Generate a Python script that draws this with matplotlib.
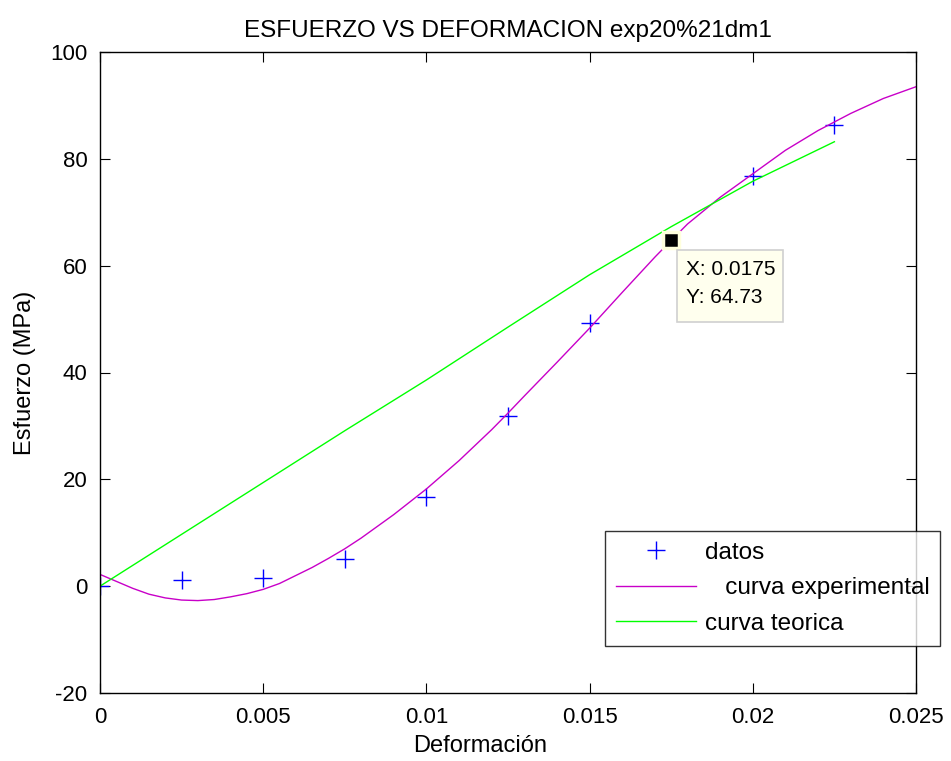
import matplotlib
matplotlib.use('Agg')
import matplotlib.pyplot as plt
from matplotlib.patches import Rectangle
import numpy as np

plt.rcParams['font.family'] = ['Liberation Sans', 'DejaVu Sans']
plt.rcParams['axes.unicode_minus'] = False

# puntos medidos (datos)
def_datos = [0, 0.0025, 0.005, 0.0075, 0.01, 0.0125, 0.015, 0.02, 0.0225]
esf_datos = [0, 1.1, 1.6, 5.0, 16.7, 31.9, 49.3, 76.7, 86.3]

# curva experimental (magenta)
def_exp = [0, 0.0005, 0.001, 0.0015, 0.002, 0.0025, 0.003, 0.0035, 0.004, 0.0045,
           0.005, 0.0055, 0.006, 0.0065, 0.007, 0.0075, 0.008, 0.009, 0.01, 0.011,
           0.012, 0.0125, 0.013, 0.014, 0.015, 0.016, 0.017, 0.0175, 0.018, 0.019,
           0.02, 0.021, 0.022, 0.0225, 0.023, 0.024, 0.025]
esf_exp = [2.2, 0.9, -0.4, -1.5, -2.2, -2.6, -2.7, -2.5, -2.0, -1.4,
           -0.6, 0.5, 2.0, 3.5, 5.2, 7.0, 9.0, 13.4, 18.2, 23.5,
           29.3, 32.4, 35.6, 41.9, 48.3, 55.0, 61.6, 64.73, 67.8, 72.8,
           77.2, 81.6, 85.3, 86.9, 88.5, 91.3, 93.5]

# curva teorica (verde)
def_teo = [0, 0.0025, 0.005, 0.0075, 0.01, 0.0125, 0.015, 0.0175, 0.02, 0.0225]
esf_teo = [0, 9.7, 19.4, 29.1, 38.6, 48.5, 58.3, 67.3, 75.8, 83.2]

# data tip
tip_x = 0.0175
tip_y = 64.73

W, H = 951, 761
fig = plt.figure(figsize=(W/100, H/100), dpi=100)
ax = fig.add_axes([100/W, 1-693/H, 816/W, 641/H])

h1, = ax.plot(def_datos, esf_datos, '+', color='#0000ff', markersize=13, markeredgewidth=1.0, label='datos')
h2, = ax.plot(def_exp, esf_exp, color='#c800c8', linewidth=1.0, label='   curva experimental')
h3, = ax.plot(def_teo, esf_teo, color='#00ff00', linewidth=1.0, label='curva teorica')

# data tip marker + box
ax.plot([tip_x], [tip_y], 's', color='black', markersize=11, markeredgecolor='#ffffdd', markeredgewidth=2.5, zorder=5)
fig.add_artist(Rectangle((677/W, 1-322/H), 106/W, 72/H, transform=fig.transFigure,
                         facecolor='#ffffee', edgecolor='#d0d0d0', linewidth=1.2, zorder=6))
fig.text(686/W, 1-270/H, 'X: 0.0175', fontsize=15, va='center', ha='left', zorder=7)
fig.text(686/W, 1-297/H, 'Y: 64.73', fontsize=15, va='center', ha='left', zorder=7)

ax.set_xlim(0, 0.025)
ax.set_ylim(-20, 100)
ax.set_xticks([0, 0.005, 0.01, 0.015, 0.02, 0.025])
ax.set_xticklabels(['0', '0.005', '0.01', '0.015', '0.02', '0.025'])
ax.set_yticks([-20, 0, 20, 40, 60, 80, 100])
ax.tick_params(direction='in', length=7, top=True, right=True, labelsize=16)
ax.tick_params(axis='x', pad=10)
ax.tick_params(axis='y', pad=9)
for s in ax.spines.values():
    s.set_linewidth(1.0)

ax.set_title('ESFUERZO VS DEFORMACION exp20%21dm1', fontsize=17.5, pad=11)
ax.set_xlabel('Deformación', fontsize=17)
ax.xaxis.set_label_coords((480-100)/816, -(746-693)/641)
ax.set_ylabel('Esfuerzo (MPa)', fontsize=17)
ax.yaxis.set_label_coords(-(100-25)/816, 0.5)
ax.yaxis.label.set_va('center')
ax.xaxis.label.set_va('center')

leg = ax.legend(handles=[h1, h2, h3], loc='upper left', bbox_to_anchor=(605/W, 1-531/H),
                bbox_transform=fig.transFigure, fontsize=17.5, frameon=True, fancybox=False,
                edgecolor='black', borderaxespad=0, handlelength=3.3, handletextpad=0.35,
                borderpad=0.45, labelspacing=0.55)
leg.get_frame().set_linewidth(1.0)

fig.savefig('out.png', dpi=100)
